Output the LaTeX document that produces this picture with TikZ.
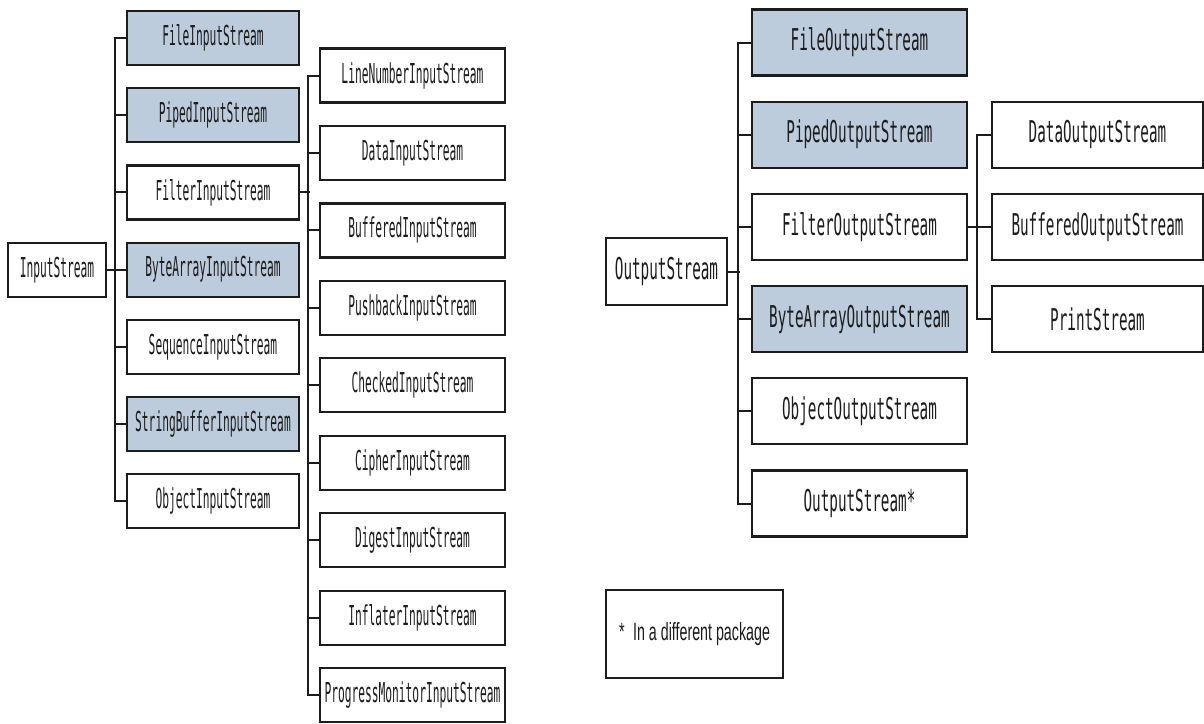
\documentclass[tikz,border=0pt]{standalone}
\usepackage{fontspec}
\usepackage{graphicx}
\newfontfamily\clsfont{DejaVu Sans Mono}
\newfontfamily\notefont{Liberation Sans}
\definecolor{boxblue}{HTML}{BDCCDC}
\definecolor{ink}{HTML}{1C1C1C}
% condensed class names
\newcommand{\icls}[1]{\scalebox{0.41}[1]{#1}}
\newcommand{\ocls}[1]{\scalebox{0.476}[1]{#1}}
\begin{document}
\begin{tikzpicture}[x=1pt,y=-1pt,
  cbox/.style={draw=ink, line width=2.2pt, fill=white, inner sep=0pt, text=ink},
  inbox/.style={cbox, minimum height=54pt, font=\clsfont\fontsize{27.4}{29}\selectfont},
  outbox/.style={cbox, minimum height=66pt, font=\clsfont\fontsize{30}{32}\selectfont},
  core/.style={fill=boxblue},
  link/.style={draw=ink, line width=2pt}]
\useasboundingbox (0,0) rectangle (1204,723);

% ---------------- input streams ----------------
\node[inbox, minimum width=98pt] (inRoot) at (57,270) {\icls{InputStream}};

\begin{scope}[every node/.append style={inbox, minimum width=172pt}]
\node[core] (fileIn)   at (213,38)    {\icls{FileInputStream}};
\node[core] (pipedIn)  at (213,115.2) {\icls{PipedInputStream}};
\node       (filterIn) at (213,192.4) {\icls{FilterInputStream}};
\node[core] (byteIn)   at (213,269.6) {\icls{ByteArrayInputStream}};
\node       (seqIn)    at (213,346.8) {\icls{SequenceInputStream}};
\node[core] (strIn)    at (213,424)   {\icls{StringBufferInputStream}};
\node       (objIn)    at (213,501.2) {\icls{ObjectInputStream}};
\end{scope}

\begin{scope}[every node/.append style={inbox, minimum width=185pt}]
\node (lineIn)     at (412.5,75.5)  {\icls{LineNumberInputStream}};
\node (dataIn)     at (412.5,153)   {\icls{DataInputStream}};
\node (bufIn)      at (412.5,230.4) {\icls{BufferedInputStream}};
\node (pushIn)     at (412.5,307.9) {\icls{PushbackInputStream}};
\node (checkIn)    at (412.5,385.3) {\icls{CheckedInputStream}};
\node (cipherIn)   at (412.5,462.8) {\icls{CipherInputStream}};
\node (digestIn)   at (412.5,540.2) {\icls{DigestInputStream}};
\node (inflateIn)  at (412.5,617.7) {\icls{InflaterInputStream}};
\node (progressIn) at (412.5,695.1) {\icls{ProgressMonitorInputStream}};
\end{scope}

% tree lines of InputStream
\draw[link] (inRoot.east) -- ++(10.7,0);
\draw[link] (fileIn.west) -- ++(-10.5,0) |- (objIn.west);
\foreach \n in {pipedIn,filterIn,byteIn,seqIn,strIn}
  \draw[link] (\n.west) -- ++(-10.5,0);

% tree lines of FilterInputStream
\draw[link] (filterIn.east) -- ++(10,0);
\draw[link] (lineIn.west) -- ++(-11,0) |- (progressIn.west);
\foreach \n in {dataIn,bufIn,pushIn,checkIn,cipherIn,digestIn,inflateIn}
  \draw[link] (\n.west) -- ++(-11,0);

% ---------------- output streams ----------------
\node[outbox, minimum width=121pt, minimum height=67pt] (outRoot) at (666.5,271.5) {\ocls{OutputStream}};

\begin{scope}[every node/.append style={outbox, minimum width=215pt}]
\node[core] (fileOut)   at (859.5,42.5)  {\ocls{FileOutputStream}};
\node[core] (pipedOut)  at (859.5,134.7) {\ocls{PipedOutputStream}};
\node       (filterOut) at (859.5,226.9) {\ocls{FilterOutputStream}};
\node[core] (byteOut)   at (859.5,319.1) {\ocls{ByteArrayOutputStream}};
\node       (objOut)    at (859.5,411.3) {\ocls{ObjectOutputStream}};
\node       (otherOut)  at (859.5,503.5) {\ocls{OutputStream*}};
\end{scope}

\begin{scope}[every node/.append style={outbox, minimum width=211pt}]
\node (dataOut)  at (1097.5,134.7) {\ocls{DataOutputStream}};
\node (bufOut)   at (1097.5,226.9) {\ocls{BufferedOutputStream}};
\node (printOut) at (1097.5,319.1) {\ocls{PrintStream}};
\end{scope}

% tree lines of OutputStream
\draw[link] (outRoot.east) -- ++(12,0);
\draw[link] (fileOut.west) -- ++(-13,0) |- (otherOut.west);
\foreach \n in {pipedOut,filterOut,byteOut,objOut}
  \draw[link] (\n.west) -- ++(-13,0);

% tree lines of FilterOutputStream
\draw[link] (filterOut.east) -- ++(11,0);
\draw[link] (dataOut.west) -- ++(-14,0) |- (printOut.west);
\draw[link] (bufOut.west) -- ++(-14,0);

% ---------------- footnote ----------------
\node[cbox, minimum width=177pt, minimum height=88pt,
      font=\notefont\fontsize{25}{27}\selectfont] (note) at (694.5,634)
  {\scalebox{0.57}[1]{*\hspace{0.6em}In a different package}};
\end{tikzpicture}
\end{document}
